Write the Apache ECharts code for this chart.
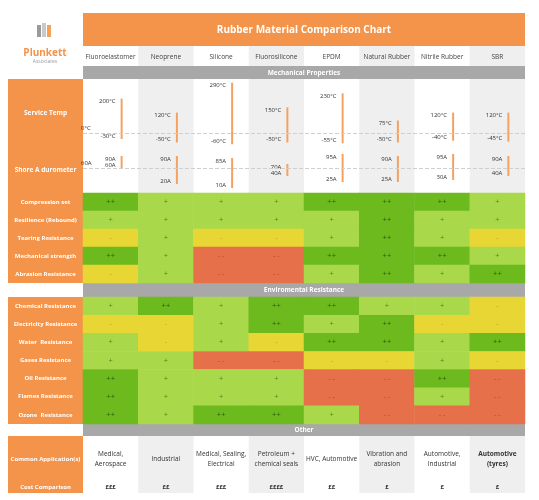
<!DOCTYPE html>
<html><head><meta charset="utf-8">
<script src="https://cdn.jsdelivr.net/npm/echarts@6/dist/echarts.min.js"></script>
<style>html,body{margin:0;padding:0;background:#fff}#c{width:539px;height:500px}</style>
</head><body><div id="c"></div>
<script>
var materials = ['Fluoroelastomer','Neoprene','Silicone','Fluorosilicone','EPDM','Natural Rubber','Nitrile Rubber','SBR'];
var tempMax = [200,120,290,150,230,75,120,120];
var tempMin = [-30,-50,-60,-50,-55,-50,-40,-45];
var duroMax = [90,90,85,70,95,90,95,90];
var duroMin = [60,20,10,40,25,25,30,40];
var mechRows = ['Compression set','Resilience (Rebound)','Tearing Resistance','Mechanical strength','Abrasion Resistance'];
var mechVals = [
  [2,1,1,1,2,2,2,1],
  [1,1,1,1,1,2,1,1],
  [-1,1,-1,-1,1,2,1,-1],
  [2,1,-2,-2,2,2,2,1],
  [-1,1,-2,-2,1,2,1,2]
];
var envRows = ['Chemical Resistance','Electricity Resistance','Water  Resistance','Gases Resistance','Oil Resistance','Flames Resistance','Ozone  Resistance'];
var envVals = [
  [1,2,1,2,2,1,1,-1],
  [-1,-1,1,2,1,2,-1,-1],
  [1,-1,1,-1,2,2,1,2],
  [1,1,-2,-2,-1,-1,1,-1],
  [2,1,1,1,-2,-2,2,-2],
  [2,1,1,1,-2,-2,1,-2],
  [2,1,2,2,1,-2,-2,-2]
];
var applications = ['Medical,\nAerospace','Industrial','Medical, Sealing,\nElectrical','Petroleum +\nchemical seals','HVC, Automotive','Vibration and\nabrasion','Automotive,\nIndustrial','Automotive\n(tyres)'];
var costs = ['£££','££','£££','££££','££','£','£','£'];

var ORANGE = '#f4934a', GREY = '#a8a8a8';
var FONT = '"Open Sans", sans-serif';
var L = 83, W = 442, CW = W / 8;
var cellColor = {'2':'#6dba1f','1':'#a9d84a','-1':'#e8d635','-2':'#e5704a'};
var cellText = {'2':'++','1':'+','-1':'-','-2':'- -'};
var cellTextColor = {'2':'#2f5a10','1':'#4f8a22','-1':'#c99a2a','-2':'#b5452a'};

function heatData(vals) {
  var d = [];
  vals.forEach(function (row, r) {
    row.forEach(function (v, c) {
      d.push({value: [c, r, v], itemStyle: {color: cellColor[v]},
        label: {formatter: cellText[v], color: cellTextColor[v]}});
    });
  });
  return d;
}

function rangeSeries(grid, maxArr, minArr, unit, refVal, refLabel) {
  return {
    type: 'custom', xAxisIndex: grid, yAxisIndex: grid,
    data: maxArr.map(function (m, i) { return [i, m, minArr[i]]; }),
    renderItem: function (params, api) {
      var top = api.coord([api.value(0), api.value(1)]);
      var bot = api.coord([api.value(0), api.value(2)]);
      var x = top[0] + 11;
      return {type: 'group', children: [
        {type: 'rect', shape: {x: x - 1, y: top[1], width: 2, height: bot[1] - top[1]}, style: {fill: '#f5a260'}},
        {type: 'text', style: {text: api.value(1) + unit, x: x - 6, y: top[1] + 3, align: 'right', verticalAlign: 'middle', fontSize: 6, fontFamily: FONT, fill: '#333'}},
        {type: 'text', style: {text: api.value(2) + unit, x: x - 6, y: bot[1] - 3, align: 'right', verticalAlign: 'middle', fontSize: 6, fontFamily: FONT, fill: '#333'}}
      ]};
    },
    markLine: {silent: true, symbol: 'none', data: [{yAxis: refVal}],
      lineStyle: {type: 'dashed', color: '#cfcfcf', width: 1},
      label: {position: 'insideStartTop', formatter: refLabel, fontSize: 6, color: '#333', fontFamily: FONT, distance: [-2, 2]}}
  };
}

var graphics = [];
function rect(x, y, w, h, fill) { graphics.push({type: 'rect', z: -10, shape: {x: x, y: y, width: w, height: h}, style: {fill: fill}}); }
function text(t, x, y, size, fill, bold, align) {
  graphics.push({type: 'text', z: 10, style: {text: t, x: x, y: y, fontSize: size, fill: fill, fontFamily: FONT,
    fontWeight: bold ? 'bold' : 'normal', align: align || 'center', verticalAlign: 'middle', lineHeight: size + 3}});
}
rect(L, 13, W, 33, ORANGE);
text('Rubber Material Comparison Chart', L + W / 2, 30, 10, '#fff', true);
for (var i = 0; i < 8; i++) {
  if (i % 2 === 1) { rect(L + i * CW, 46, CW, 20, '#efefef'); rect(L + i * CW, 79, CW, 114, '#efefef'); rect(L + i * CW, 436, CW, 57, '#efefef'); }
  text(materials[i], L + i * CW + CW / 2, 57, 6.5, '#444', false);
  text(applications[i], L + i * CW + CW / 2, 459, 6.5, '#333', i === 7);
  text(costs[i], L + i * CW + CW / 2, 487, 6, '#333', true);
}
rect(L, 66, W, 13, GREY); text('Mechanical Properties', L + W / 2, 73, 6.5, '#fff', true);
rect(L, 283, W, 14, GREY); text('Enviromental Resistance', L + W / 2, 290, 6.5, '#fff', true);
rect(L, 424, W, 12, GREY); text('Other', L + W / 2, 430, 6.5, '#fff', true);
rect(8, 79, 75, 204, ORANGE); rect(8, 297, 75, 127, ORANGE); rect(8, 436, 75, 57, ORANGE);
text('Service Temp', 45.5, 113, 6.5, '#fff', true);
text('Shore A durometer', 45.5, 170, 6.5, '#fff', true);
text('Common Application(s)', 45.5, 459, 6, '#fff', true);
text('Cost Comparison', 45.5, 487, 6, '#fff', true);
// logo
rect(37, 25, 4, 12, '#9a9a9a'); rect(42, 23, 4, 14, '#c9c9c9'); rect(47, 25, 4, 12, '#f4a15a');
text('Plunkett', 45, 53, 10, ORANGE, true);
text('Associates', 45, 62, 5, '#999', false);

function catAxis(grid, data, show, inverse) {
  return {type: 'category', gridIndex: grid, data: data, inverse: inverse, show: show,
    axisLine: {show: false}, axisTick: {show: false}, splitLine: {show: false},
    axisLabel: {show: show, color: '#fff', fontWeight: 'bold', fontSize: 6, fontFamily: FONT, align: 'center', margin: 37.5}};
}
var chart = echarts.init(document.getElementById('c'));
chart.setOption({
  animation: false,
  graphic: graphics,
  grid: [
    {left: L, width: W, top: 81, height: 65},
    {left: L, width: W, top: 152, height: 38},
    {left: L, width: W, top: 193, height: 90},
    {left: L, width: W, top: 297, height: 127}
  ],
  xAxis: [catAxis(0, materials, false), catAxis(1, materials, false), catAxis(2, materials, false), catAxis(3, materials, false)],
  yAxis: [
    {type: 'value', gridIndex: 0, min: -70, max: 300, show: false},
    {type: 'value', gridIndex: 1, min: 5, max: 100, show: false},
    catAxis(2, mechRows, true, true),
    catAxis(3, envRows, true, true)
  ],
  series: [
    rangeSeries(0, tempMax, tempMin, '°C', 0, '0°C'),
    rangeSeries(1, duroMax, duroMin, 'A', 60, '60A'),
    {type: 'heatmap', xAxisIndex: 2, yAxisIndex: 2, data: heatData(mechVals),
      label: {show: true, fontSize: 7.5, fontFamily: FONT}},
    {type: 'heatmap', xAxisIndex: 3, yAxisIndex: 3, data: heatData(envVals),
      label: {show: true, fontSize: 7.5, fontFamily: FONT}}
  ]
});
</script></body></html>
